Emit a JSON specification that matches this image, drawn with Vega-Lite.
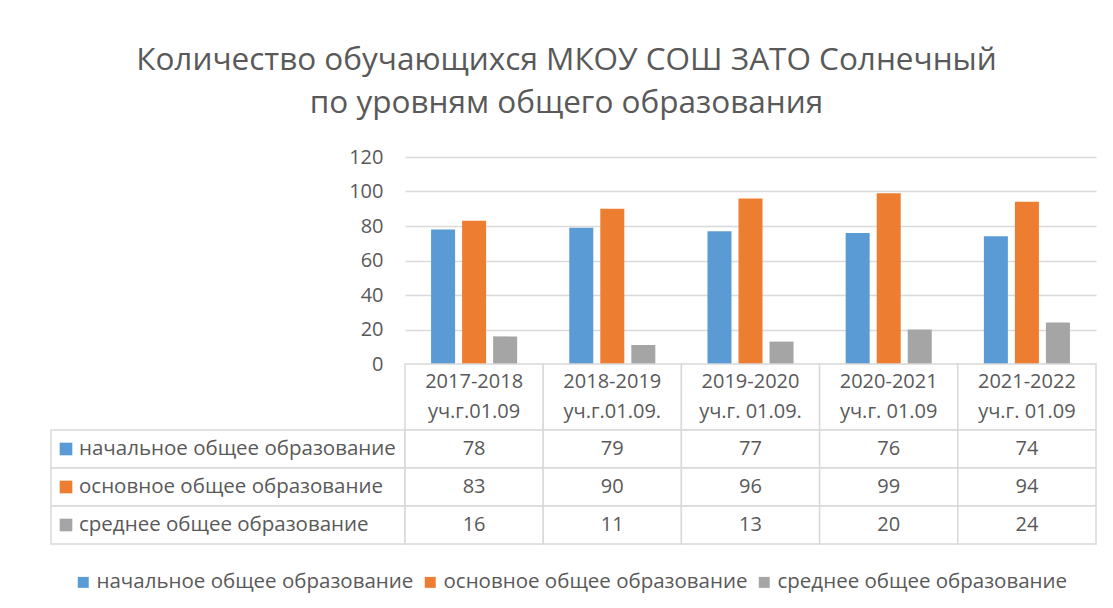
{
  "$schema": "https://vega.github.io/schema/vega-lite/v6.json",
  "background": "white",
  "padding": {"left": 50, "top": 44, "right": 10, "bottom": 10},
  "title": {
    "text": ["Количество обучающихся МКОУ СОШ ЗАТО Солнечный", "по уровням общего образования"],
    "anchor": "middle",
    "font": "Open Sans",
    "fontSize": 31.5,
    "fontWeight": "normal",
    "color": "#595959",
    "lineHeight": 43,
    "offset": 28,
    "dx": -7
  },
  "datasets": {
    "main": [
      {"year": "2017-2018\nуч.г.01.09", "series": "начальное общее образование", "value": 78},
      {"year": "2018-2019\nуч.г.01.09.", "series": "начальное общее образование", "value": 79},
      {"year": "2019-2020\nуч.г. 01.09.", "series": "начальное общее образование", "value": 77},
      {"year": "2020-2021\nуч.г. 01.09", "series": "начальное общее образование", "value": 76},
      {"year": "2021-2022\nуч.г. 01.09", "series": "начальное общее образование", "value": 74},
      {"year": "2017-2018\nуч.г.01.09", "series": "основное общее образование", "value": 83},
      {"year": "2018-2019\nуч.г.01.09.", "series": "основное общее образование", "value": 90},
      {"year": "2019-2020\nуч.г. 01.09.", "series": "основное общее образование", "value": 96},
      {"year": "2020-2021\nуч.г. 01.09", "series": "основное общее образование", "value": 99},
      {"year": "2021-2022\nуч.г. 01.09", "series": "основное общее образование", "value": 94},
      {"year": "2017-2018\nуч.г.01.09", "series": "среднее общее образование", "value": 16},
      {"year": "2018-2019\nуч.г.01.09.", "series": "среднее общее образование", "value": 11},
      {"year": "2019-2020\nуч.г. 01.09.", "series": "среднее общее образование", "value": 13},
      {"year": "2020-2021\nуч.г. 01.09", "series": "среднее общее образование", "value": 20},
      {"year": "2021-2022\nуч.г. 01.09", "series": "среднее общее образование", "value": 24}
    ],
    "years": [
      {"year": "2017-2018\nуч.г.01.09"},
      {"year": "2018-2019\nуч.г.01.09."},
      {"year": "2019-2020\nуч.г. 01.09."},
      {"year": "2020-2021\nуч.г. 01.09"},
      {"year": "2021-2022\nуч.г. 01.09"}
    ],
    "series": [
      {"series": "начальное общее образование"},
      {"series": "основное общее образование"},
      {"series": "среднее общее образование"}
    ]
  },
  "columns": 2,
  "bounds": "flush",
  "spacing": 0,
  "resolve": {"scale": {"color": "independent"}, "legend": {"color": "independent"}},
  "concat": [
    {
      "width": 354, "height": 207,
      "data": {"values": [{}]},
      "mark": {"type": "point", "opacity": 0},
      "encoding": {}
    },
    {
      "width": 691, "height": 207,
      "data": {"name": "main"},
      "mark": {"type": "bar"},
      "encoding": {
        "x": {"field": "year", "type": "nominal", "axis": null,
          "scale": {"domain": ["2017-2018\nуч.г.01.09", "2018-2019\nуч.г.01.09.", "2019-2020\nуч.г. 01.09.", "2020-2021\nуч.г. 01.09", "2021-2022\nуч.г. 01.09"], "paddingInner": 0, "paddingOuter": 0}},
        "xOffset": {"field": "series", "type": "nominal",
          "scale": {"domain": ["начальное общее образование", "основное общее образование", "среднее общее образование"], "paddingInner": 0.226, "paddingOuter": 0.84}},
        "y": {"field": "value", "type": "quantitative",
          "scale": {"domain": [0, 120]},
          "axis": {"values": [0, 20, 40, 60, 80, 100, 120], "domain": false, "ticks": false, "grid": true, "gridColor": "#D9D9D9", "gridWidth": 1.5, "labelFontSize": 20, "labelColor": "#595959", "labelPadding": 22, "title": null}},
        "color": {"field": "series", "type": "nominal",
          "scale": {"domain": ["начальное общее образование", "основное общее образование", "среднее общее образование"], "range": ["#5B9BD5", "#ED7D31", "#A5A5A5"]},
          "legend": null}
      }
    },
    {
      "width": 354, "height": 1,
      "data": {"values": [{}]},
      "mark": {"type": "point", "opacity": 0},
      "encoding": {}
    },
    {
      "width": 691, "height": 66,
      "data": {"name": "years"},
      "encoding": {
        "x": {"field": "year", "type": "nominal", "axis": null,
          "scale": {"domain": ["2017-2018\nуч.г.01.09", "2018-2019\nуч.г.01.09.", "2019-2020\nуч.г. 01.09.", "2020-2021\nуч.г. 01.09", "2021-2022\nуч.г. 01.09"], "paddingInner": 0, "paddingOuter": 0}}
      },
      "layer": [
        {"mark": {"type": "rect", "fill": "white", "stroke": "#D9D9D9", "strokeWidth": 1.5}},
        {"mark": {"type": "text", "lineBreak": "\n", "lineHeight": 30, "fontSize": 20, "color": "#595959", "baseline": "middle", "dy": -15},
          "encoding": {"text": {"field": "year"}}}
      ]
    },
    {
      "width": 354, "height": 114,
      "data": {"name": "series"},
      "encoding": {
        "y": {"field": "series", "type": "nominal", "axis": null,
          "scale": {"domain": ["начальное общее образование", "основное общее образование", "среднее общее образование"], "paddingInner": 0, "paddingOuter": 0}}
      },
      "layer": [
        {"mark": {"type": "rect", "fill": "white", "stroke": "#D9D9D9", "strokeWidth": 1.5}},
        {"mark": {"type": "point", "shape": "square", "filled": true, "opacity": 1, "size": 160, "xOffset": -162},
          "encoding": {
            "color": {"field": "series", "type": "nominal",
              "scale": {"domain": ["начальное общее образование", "основное общее образование", "среднее общее образование"], "range": ["#5B9BD5", "#ED7D31", "#A5A5A5"]},
              "legend": {"orient": "none", "legendX": 22, "legendY": 142, "direction": "horizontal", "title": null, "symbolType": "square", "symbolSize": 120, "symbolOpacity": 1, "labelFontSize": 20.5, "labelColor": "#595959", "labelLimit": 400, "columnPadding": 6, "labelOffset": 3}}
          }},
        {"mark": {"type": "text", "align": "left", "dx": -149, "fontSize": 20.5, "color": "#595959", "baseline": "middle"},
          "encoding": {"text": {"field": "series"}}}
      ]
    },
    {
      "width": 691, "height": 114,
      "data": {"name": "main"},
      "encoding": {
        "x": {"field": "year", "type": "nominal", "axis": null,
          "scale": {"domain": ["2017-2018\nуч.г.01.09", "2018-2019\nуч.г.01.09.", "2019-2020\nуч.г. 01.09.", "2020-2021\nуч.г. 01.09", "2021-2022\nуч.г. 01.09"], "paddingInner": 0, "paddingOuter": 0}},
        "y": {"field": "series", "type": "nominal", "axis": null,
          "scale": {"domain": ["начальное общее образование", "основное общее образование", "среднее общее образование"], "paddingInner": 0, "paddingOuter": 0}}
      },
      "layer": [
        {"mark": {"type": "rect", "fill": "white", "stroke": "#D9D9D9", "strokeWidth": 1.5}},
        {"mark": {"type": "text", "fontSize": 20, "color": "#595959", "baseline": "middle"},
          "encoding": {"text": {"field": "value", "type": "quantitative"}}}
      ]
    }
  ],
  "config": {
    "view": {"stroke": null},
    "font": "Open Sans"
  }
}
